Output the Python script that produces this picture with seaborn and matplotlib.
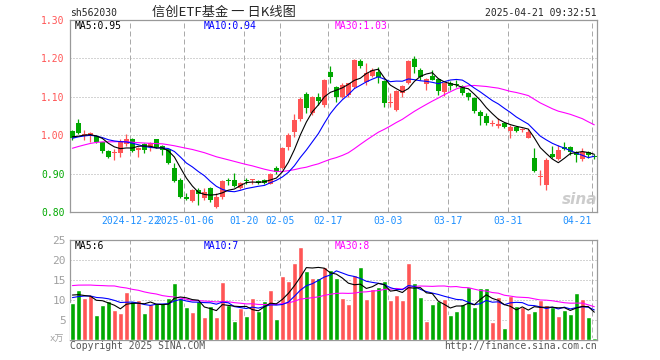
import numpy as np
import pandas as pd
import matplotlib
matplotlib.use("Agg")
import matplotlib.pyplot as plt
import seaborn as sns

# daily OHLC, 2024-12 .. 2025-04-21
opens = [1.012, 1.031, 0.997, 0.999, 0.999, 0.981, 0.960, 0.954, 0.954, 0.976,
         0.990, 0.961, 0.976, 0.968, 0.989, 0.972, 0.963, 0.915, 0.883, 0.840,
         0.829, 0.857, 0.836, 0.863, 0.814, 0.838, 0.882, 0.883, 0.862, 0.882,
         0.884, 0.880, 0.883, 0.874, 0.915, 0.914, 0.968, 1.009, 1.041, 1.107,
         1.057, 1.099, 1.079, 1.165, 1.125, 1.100, 1.105, 1.126, 1.192, 1.139,
         1.154, 1.165, 1.142, 1.084, 1.065, 1.111, 1.135, 1.198, 1.170, 1.133,
         1.154, 1.146, 1.113, 1.137, 1.133, 1.128, 1.111, 1.096, 1.061, 1.051,
         1.030, 1.025, 1.031, 1.011, 1.022, 1.014, 0.994, 0.940, 0.892, 0.870,
         0.950, 0.938, 0.968, 0.970, 0.955, 0.938, 0.955, 0.947]
highs = [1.014, 1.041, 1.014, 1.009, 1.001, 0.983, 0.961, 0.963, 0.989, 1.003,
         0.992, 0.970, 0.979, 0.981, 0.991, 0.974, 0.965, 0.927, 0.888, 0.849,
         0.860, 0.862, 0.862, 0.866, 0.849, 0.883, 0.888, 0.901, 0.878, 0.888,
         0.886, 0.884, 0.886, 0.902, 0.920, 0.968, 1.007, 1.055, 1.100, 1.113,
         1.102, 1.111, 1.146, 1.180, 1.128, 1.135, 1.137, 1.198, 1.198, 1.187,
         1.174, 1.178, 1.144, 1.109, 1.118, 1.131, 1.196, 1.206, 1.174, 1.148,
         1.170, 1.148, 1.137, 1.142, 1.144, 1.131, 1.113, 1.100, 1.066, 1.057,
         1.039, 1.044, 1.033, 1.026, 1.025, 1.020, 1.016, 0.966, 0.909, 0.940,
         0.973, 0.974, 0.983, 0.973, 0.959, 0.966, 0.959, 0.950]
lows = [0.988, 1.003, 0.988, 0.983, 0.979, 0.953, 0.940, 0.936, 0.944, 0.972,
        0.957, 0.944, 0.953, 0.960, 0.966, 0.948, 0.925, 0.879, 0.836, 0.831,
        0.826, 0.818, 0.831, 0.827, 0.810, 0.835, 0.870, 0.866, 0.860, 0.872,
        0.872, 0.872, 0.873, 0.872, 0.900, 0.912, 0.961, 0.996, 1.038, 1.057,
        1.053, 1.079, 1.074, 1.135, 1.087, 1.096, 1.100, 1.122, 1.174, 1.131,
        1.152, 1.135, 1.074, 1.073, 1.064, 1.100, 1.133, 1.163, 1.144, 1.119,
        1.143, 1.105, 1.102, 1.118, 1.126, 1.105, 1.092, 1.059, 1.027, 1.027,
        1.024, 1.018, 1.020, 0.994, 1.009, 1.009, 0.992, 0.905, 0.870, 0.857,
        0.940, 0.935, 0.961, 0.948, 0.929, 0.933, 0.941, 0.938]
closes = [0.992, 1.007, 1.004, 1.006, 0.981, 0.960, 0.944, 0.957, 0.983, 0.990,
          0.959, 0.967, 0.961, 0.979, 0.968, 0.961, 0.927, 0.881, 0.840, 0.833,
          0.857, 0.846, 0.853, 0.831, 0.840, 0.880, 0.880, 0.868, 0.876, 0.880,
          0.886, 0.876, 0.875, 0.900, 0.905, 0.966, 1.001, 1.039, 1.093, 1.072,
          1.100, 1.090, 1.144, 1.152, 1.100, 1.131, 1.135, 1.196, 1.180, 1.161,
          1.171, 1.151, 1.083, 1.086, 1.115, 1.128, 1.194, 1.177, 1.152, 1.146,
          1.145, 1.116, 1.135, 1.129, 1.130, 1.111, 1.100, 1.064, 1.051, 1.033,
          1.033, 1.028, 1.022, 1.022, 1.011, 1.016, 1.009, 0.907, 0.895, 0.935,
          0.944, 0.961, 0.964, 0.957, 0.948, 0.957, 0.948, 0.942]
volumes = [9.3, 12.5, 10.4, 11.2, 6.25, 8.75, 9.75, 7.5, 6.75, 12,
           9.75, 10, 6.75, 9, 9.25, 9.25, 10.5, 14.25, 10.5, 8.25,
           7, 9.75, 5.75, 8.5, 5.75, 14.5, 8.75, 4.75, 8, 6,
           10.5, 7.25, 9.75, 12.5, 5.25, 16, 14.75, 19.25, 23.25, 17.25,
           15.5, 15.5, 18.25, 17.5, 15.6, 10.6, 9.1, 16.25, 18.25, 10.25,
           12.75, 13.25, 14.75, 10.1, 11.25, 10, 19.25, 14.25, 10.75, 4.75,
           9, 9.75, 10.25, 6.25, 7.25, 9, 13.25, 8.25, 13, 13,
           4.5, 10.75, 3, 10.9, 8.5, 8.25, 6.75, 7.25, 10, 8.75,
           8.2, 6, 7.5, 6.5, 11.75, 10.25, 5.75, 0.5]

# history before the first visible day, only used to warm up the moving averages
prior_closes = [0.87, 0.88, 0.89, 0.90, 0.92, 0.94, 0.951, 0.97, 0.99, 1.01,
                1.00, 0.99, 1.00, 0.99, 0.98, 1.00, 0.96, 0.94, 0.93, 0.949,
                0.97, 0.98, 0.99, 1.00, 1.00, 1.00, 0.99, 1.00, 0.998]
prior_volumes = [9, 10, 11, 9, 10, 12, 8, 16, 18, 20,
                 17, 19, 18, 16, 21, 17, 18, 19, 17, 17,
                 10, 9, 11, 10, 9.8, 12, 11.5, 12, 11.4]

tick_idx = [10, 19, 29, 35, 43, 53, 63, 73, 87]
tick_labels = ["2024-12-22", "2025-01-06", "01-20", "02-05", "02-17",
               "03-03", "03-17", "03-31", "04-21"]
price_ticks = [0.80, 0.90, 1.00, 1.10, 1.20, 1.30]
vol_ticks = [5, 10, 15, 20, 25]

RED = "#ff5555"
GREEN = "#00a800"
FRAME = "#999999"

sns.set_style("white")
plt.rcParams["font.family"] = ["DejaVu Sans Mono", "Noto Sans CJK SC"]

n = len(closes)
df = pd.DataFrame({"idx": np.arange(n), "open": opens, "high": highs,
                   "low": lows, "close": closes, "vol": volumes})
df["dir"] = np.where(df["close"] >= df["open"], "up", "down")
all_close = pd.Series(prior_closes + closes)
all_vol = pd.Series(prior_volumes + volumes)
for w in (5, 10, 30):
    df[f"ma{w}"] = all_close.rolling(w).mean().iloc[-n:].to_numpy()
    df[f"vma{w}"] = all_vol.rolling(w).mean().iloc[-n:].to_numpy()

W, H = 660, 360
fig = plt.figure(figsize=(W / 100, H / 100), dpi=100)
ax = fig.add_axes([70 / W, 1 - 212 / H, 527 / W, 192 / H])
axv = fig.add_axes([70 / W, 1 - 340 / H, 527 / W, 100 / H])

# candles
colors = np.where(df["dir"] == "up", RED, GREEN)
ax.vlines(df["idx"], df["low"], df["high"], colors=colors, lw=0.9, zorder=3)
body = (df["close"] - df["open"]).abs().clip(lower=0.0026)
ax.bar(df["idx"], body, bottom=np.minimum(df["open"], df["close"]),
       width=0.78, color=colors, linewidth=0, zorder=3)

# moving averages
for col, c in (("ma30", "#ff00ff"), ("ma10", "#0000ff"), ("ma5", "black")):
    sns.lineplot(data=df, x="idx", y=col, color=c, lw=0.8, ax=ax, zorder=4)

# volume
sns.barplot(data=df, x="idx", y="vol", hue="dir", palette={"up": RED, "down": GREEN},
            dodge=False, width=0.83, saturation=1, legend=False, native_scale=True,
            ax=axv, zorder=3)
for col, c in (("vma30", "#ff00ff"), ("vma10", "#0000ff"), ("vma5", "black")):
    sns.lineplot(data=df, x="idx", y=col, color=c, lw=0.8, ax=axv, zorder=4)

grid_x = [i - 0.35 for i in tick_idx]
for a in (ax, axv):
    a.set_xlim(-0.4, n - 0.55)
    a.set_xlabel("")
    a.set_ylabel("")
    for x in grid_x:
        a.axvline(x, color="#aaaaaa", ls=(0, (5, 3)), lw=0.72, zorder=1)
    for s in a.spines.values():
        s.set_color(FRAME)
        s.set_linewidth(0.9)
    a.tick_params(length=0, labelsize=7)

ax.set_ylim(0.80, 1.30)
for t in price_ticks[1:-1]:
    ax.axhline(t, color="#aaaaaa", ls=(0, (1, 2)), lw=0.72, zorder=1)
ax.set_yticks(price_ticks)
ax.set_yticklabels([f"{t:.2f}" for t in price_ticks])
for lab, t in zip(ax.get_yticklabels(), price_ticks):
    lab.set_color(RED if t > 0.95 else GREEN)
ax.tick_params(axis="y", pad=4)
ax.set_xticks(grid_x)
ax.set_xticklabels(tick_labels, color="#1e90ff")
ax.tick_params(axis="x", pad=3)
ax.get_xticklabels()[-1].set_horizontalalignment("right")

axv.set_ylim(0, 25)
for t in vol_ticks[:-1]:
    axv.axhline(t, color="#aaaaaa", ls=(0, (1, 2)), lw=0.72, zorder=1)
axv.set_yticks(vol_ticks)
axv.set_yticklabels([str(t) for t in vol_ticks], color="#a0a0a0", fontsize=8)
axv.tick_params(axis="y", pad=3)
axv.set_xticks([])

def px(x, y):
    return x / W, 1 - y / H

fs = 7
fig.text(*px(70, 12.5), "sh562030", fontsize=fs, va="center")
fig.text(*px(224, 12.5), "信创ETF基金 一 日K线图", fontsize=9.5, va="center", ha="center",
         family=["Noto Sans CJK SC", "DejaVu Sans"])
fig.text(*px(597, 12.5), "2025-04-21 09:32:51", fontsize=fs, va="center", ha="right")
fig.text(*px(75, 26), "MA5:0.95", fontsize=fs, va="center", color="black")
fig.text(*px(204, 26), "MA10:0.94", fontsize=fs, va="center", color="#0000ff")
fig.text(*px(335, 26), "MA30:1.03", fontsize=fs, va="center", color="#ff00ff")
fig.text(*px(75, 246), "MA5:6", fontsize=fs, va="center", color="black")
fig.text(*px(204, 246), "MA10:7", fontsize=fs, va="center", color="#0000ff")
fig.text(*px(335, 246), "MA30:8", fontsize=fs, va="center", color="#ff00ff")
fig.text(*px(64, 339.5), "x万", fontsize=6.5, va="center", ha="right", color="#a0a0a0",
         family=["DejaVu Sans Mono", "Noto Sans CJK SC"])
fig.text(*px(70, 346), "Copyright 2025 SINA.COM", fontsize=fs, va="center", color="#555555")
fig.text(*px(597, 346), "http://finance.sina.com.cn", fontsize=fs, va="center", ha="right",
         color="#555555")
fig.text(*px(597, 207), "sina", fontsize=11, ha="right", va="bottom", color="#c0c0c0",
         style="italic", weight="bold", family="DejaVu Sans", alpha=0.8)

fig.savefig("out.png", dpi=100)
